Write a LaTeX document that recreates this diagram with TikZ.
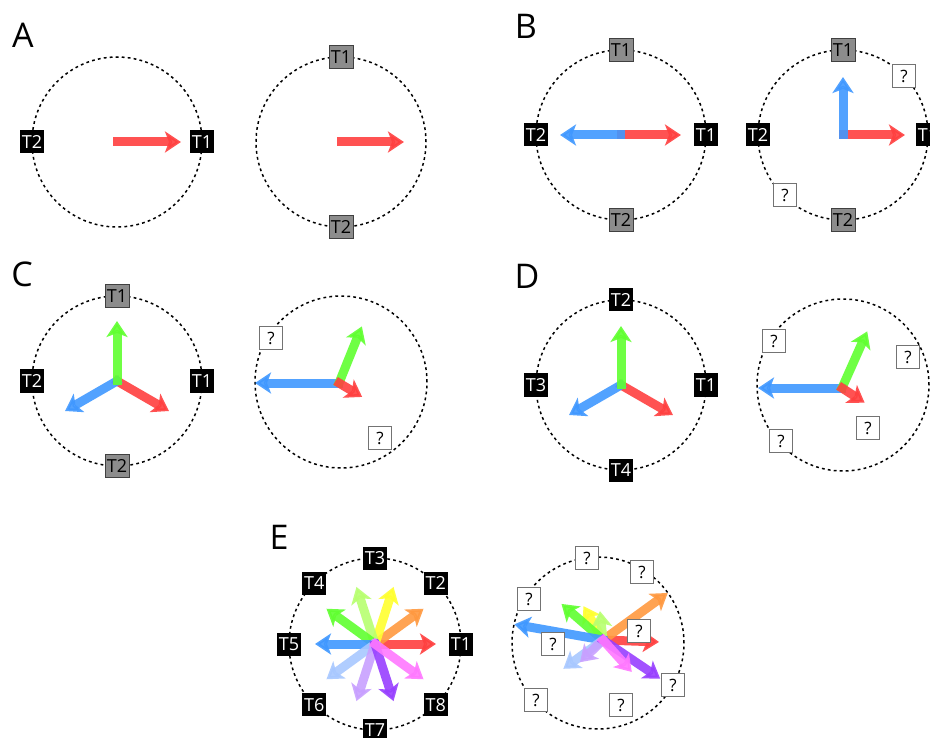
\documentclass[tikz,border=0pt]{standalone}
\usepackage{fontspec}
\setmainfont{Open Sans}
\usetikzlibrary{positioning}
\usetikzlibrary{calc}
\usetikzlibrary{arrows.meta}

\definecolor{vred}{HTML}{FF4040}
\definecolor{vorange}{HTML}{FF9940}
\definecolor{vyellow}{HTML}{FFFF30}
\definecolor{vlime}{HTML}{B8FF70}
\definecolor{vgreen}{HTML}{60FF30}
\definecolor{vblue}{HTML}{4098FF}
\definecolor{vsky}{HTML}{A8C8FF}
\definecolor{vlilac}{HTML}{C8A0FF}
\definecolor{vpurple}{HTML}{9840FF}
\definecolor{vpink}{HTML}{FF78FF}

\begin{document}
\begin{tikzpicture}[x=1pt,y=1pt,
  ring/.style={draw,line width=1.5pt,dash pattern=on 2.8pt off 3.2pt},
  tblack/.style={fill=black,text=white,minimum width=24pt,minimum height=23pt,inner sep=1pt,font=\fontsize{18}{20}\selectfont},
  tgray/.style={tblack,fill=black!45,draw=black!75,line width=0.8pt,text=black},
  tq/.style={fill=white,draw=black!55,line width=1.1pt,minimum size=23pt,inner sep=1pt,font=\fontsize{17}{20}\selectfont},
  panel/.style={inner sep=0pt,font=\fontsize{34}{40}\selectfont},
  vec/.style={line width=9pt,opacity=0.9,shorten <=-4pt,-{Stealth[length=16pt,width=21pt,inset=4pt]}}]
\path[use as bounding box,fill=white] (0,0) rectangle (930,-738);

% A
\node[panel](lA) at (23,-35){A};
\coordinate (oA1) at (117,-142);
\coordinate (oA2) at (341,-142);
\draw[ring] (oA1) circle (85pt);
\draw[ring] (oA2) circle (85pt);
\coordinate (A1r) at ($(oA1)+(0:64)$);
\coordinate (A2r) at ($(oA2)+(0:63)$);
\path
(oA1) edge[vec,vred] (A1r)
(oA2) edge[vec,vred] (A2r);
\node[tblack](A1T1) at ($(oA1)+(0:85)$){T1};
\node[tblack](A1T2) at ($(oA1)+(180:85)$){T2};
\node[tgray](A2T1) at ($(oA2)+(90:85)$){T1};
\node[tgray](A2T2) at ($(oA2)+(270:85)$){T2};

% B
\node[panel](lB) at (526,-26){B};
\coordinate (oB1) at (621,-135);
\coordinate (oB2) at (843,-135);
\draw[ring] (oB1) circle (85pt);
\draw[ring] (oB2) circle (85pt);
\coordinate (B1r) at ($(oB1)+(0:60)$);
\coordinate (B1b) at ($(oB1)+(180:61)$);
\coordinate (B2r) at ($(oB2)+(0:62)$);
\coordinate (B2b) at ($(oB2)+(90:58)$);
\path
(oB1) edge[vec,vred] (B1r)
(oB1) edge[vec,vblue] (B1b)
(oB2) edge[vec,vred] (B2r)
(oB2) edge[vec,vblue] (B2b);
\node[tblack](B1T1) at ($(oB1)+(0:85)$){T1};
\node[tblack](B1T2) at ($(oB1)+(180:85)$){T2};
\node[tgray](B1T1g) at ($(oB1)+(90:85)$){T1};
\node[tgray](B1T2g) at ($(oB1)+(270:85)$){T2};
\node[tblack](B2T1) at ($(oB2)+(0:85)$){T1};
\node[tblack](B2T2) at ($(oB2)+(180:85)$){T2};
\node[tgray](B2T1g) at ($(oB2)+(90:85)$){T1};
\node[tgray](B2T2g) at ($(oB2)+(270:85)$){T2};
\node[tq](B2q1) at (904,-76){?};
\node[tq](B2q2) at (785,-195){?};

% C
\node[panel](lC) at (22,-274){C};
\coordinate (oC1) at (117,-381);
\coordinate (oC2) at (341,-382);
\coordinate (sC2) at (339,-383);
\draw[ring] (oC1) circle (85pt);
\draw[ring] (oC2) circle (86pt);
\coordinate (C1r) at ($(oC1)+(-30:60)$);
\coordinate (C1b) at ($(oC1)+(210:60)$);
\coordinate (C1g) at ($(oC1)+(90:60)$);
\coordinate (C2r) at ($(sC2)+(-31:27)$);
\coordinate (C2b) at ($(sC2)+(180:84)$);
\coordinate (C2g) at ($(sC2)+(68:61)$);
\path
(oC1) edge[vec,vred] (C1r)
(oC1) edge[vec,vblue] (C1b)
(oC1) edge[vec,vgreen] (C1g)
(sC2) edge[vec,vblue] (C2b)
(sC2) edge[vec,vgreen] (C2g)
(sC2) edge[vec,vred] (C2r);
\node[tblack](C1T1) at ($(oC1)+(0:85)$){T1};
\node[tblack](C1T2) at ($(oC1)+(180:85)$){T2};
\node[tgray](C1T1g) at ($(oC1)+(90:85)$){T1};
\node[tgray](C1T2g) at ($(oC1)+(270:85)$){T2};
\node[tq](C2q1) at (271,-338){?};
\node[tq](C2q2) at (380,-438){?};

% D
\node[panel](lD) at (527,-276){D};
\coordinate (oD1) at (621,-385);
\coordinate (oD2) at (843,-385);
\coordinate (sD2) at (842,-388);
\draw[ring] (oD1) circle (85pt);
\draw[ring] (oD2) circle (86pt);
\coordinate (D1r) at ($(oD1)+(-30:60)$);
\coordinate (D1b) at ($(oD1)+(210:60)$);
\coordinate (D1g) at ($(oD1)+(90:59)$);
\coordinate (D2r) at ($(sD2)+(-33:27)$);
\coordinate (D2b) at ($(sD2)+(180:84)$);
\coordinate (D2g) at ($(sD2)+(66:62)$);
\path
(oD1) edge[vec,vred] (D1r)
(oD1) edge[vec,vblue] (D1b)
(oD1) edge[vec,vgreen] (D1g)
(sD2) edge[vec,vblue] (D2b)
(sD2) edge[vec,vgreen] (D2g)
(sD2) edge[vec,vred] (D2r);
\node[tblack](D1T1) at ($(oD1)+(0:85)$){T1};
\node[tblack](D1T2) at ($(oD1)+(90:85)$){T2};
\node[tblack](D1T3) at ($(oD1)+(180:85)$){T3};
\node[tblack](D1T4) at ($(oD1)+(270:85)$){T4};
\node[tq](D2q1) at (774,-341){?};
\node[tq](D2q2) at (908,-357){?};
\node[tq](D2q3) at (868,-428){?};
\node[tq](D2q4) at (781,-441){?};

% E
\node[panel](lE) at (279,-537){E};
\coordinate (oE1) at (375,-644);
\coordinate (oE2) at (598,-643);
\coordinate (sE2) at (603,-640);
\draw[ring] (oE1) circle (86pt);
\draw[ring] (oE2) circle (86pt);
\coordinate (E1a) at ($(oE1)+(0:61)$);
\coordinate (E1b) at ($(oE1)+(36:60)$);
\coordinate (E1c) at ($(oE1)+(72:60)$);
\coordinate (E1d) at ($(oE1)+(108:60)$);
\coordinate (E1e) at ($(oE1)+(144:60)$);
\coordinate (E1f) at ($(oE1)+(180:60)$);
\coordinate (E1g) at ($(oE1)+(216:60)$);
\coordinate (E1h) at ($(oE1)+(252:60)$);
\coordinate (E1i) at ($(oE1)+(288:60)$);
\coordinate (E1j) at ($(oE1)+(324:60)$);
\path
(oE1) edge[vec,vred] (E1a)
(oE1) edge[vec,vorange] (E1b)
(oE1) edge[vec,vyellow] (E1c)
(oE1) edge[vec,vlime] (E1d)
(oE1) edge[vec,vgreen] (E1e)
(oE1) edge[vec,vblue] (E1f)
(oE1) edge[vec,vsky] (E1g)
(oE1) edge[vec,vlilac] (E1h)
(oE1) edge[vec,vpurple] (E1i)
(oE1) edge[vec,vpink] (E1j);
\coordinate (E2a) at ($(sE2)+(-2:56)$);
\coordinate (E2b) at ($(sE2)+(36:80)$);
\coordinate (E2c) at ($(sE2)+(120:39)$);
\coordinate (E2d) at ($(sE2)+(96:29)$);
\coordinate (E2e) at ($(sE2)+(139:55)$);
\coordinate (E2f) at ($(sE2)+(170:90)$);
\coordinate (E2g) at ($(sE2)+(216:49)$);
\coordinate (E2h) at ($(sE2)+(224:32)$);
\coordinate (E2i) at ($(sE2)+(326:69)$);
\coordinate (E2j) at ($(sE2)+(312:43)$);
\path
(sE2) edge[vec,vred] (E2a)
(sE2) edge[vec,vorange] (E2b)
(sE2) edge[vec,vyellow] (E2c)
(sE2) edge[vec,vlime] (E2d)
(sE2) edge[vec,vgreen] (E2e)
(sE2) edge[vec,vblue] (E2f)
(sE2) edge[vec,vsky] (E2g)
(sE2) edge[vec,vlilac] (E2h)
(sE2) edge[vec,vpurple] (E2i)
(sE2) edge[vec,vpink] (E2j);
\node[tblack](E1T1) at ($(oE1)+(0:86)$){T1};
\node[tblack](E1T2) at ($(oE1)+(45:86)$){T2};
\node[tblack](E1T3) at ($(oE1)+(90:86)$){T3};
\node[tblack](E1T4) at ($(oE1)+(135:86)$){T4};
\node[tblack](E1T5) at ($(oE1)+(180:86)$){T5};
\node[tblack](E1T6) at ($(oE1)+(225:86)$){T6};
\node[tblack](E1T7) at ($(oE1)+(270:86)$){T7};
\node[tblack](E1T8) at ($(oE1)+(315:86)$){T8};
\node[tq](E2q1) at (587,-558){?};
\node[tq](E2q2) at (642,-572){?};
\node[tq](E2q3) at (529,-599){?};
\node[tq](E2q4) at (639,-631){?};
\node[tq](E2q5) at (553,-644){?};
\node[tq](E2q6) at (673,-685){?};
\node[tq](E2q7) at (536,-700){?};
\node[tq](E2q8) at (621,-705){?};
\end{tikzpicture}
\end{document}
